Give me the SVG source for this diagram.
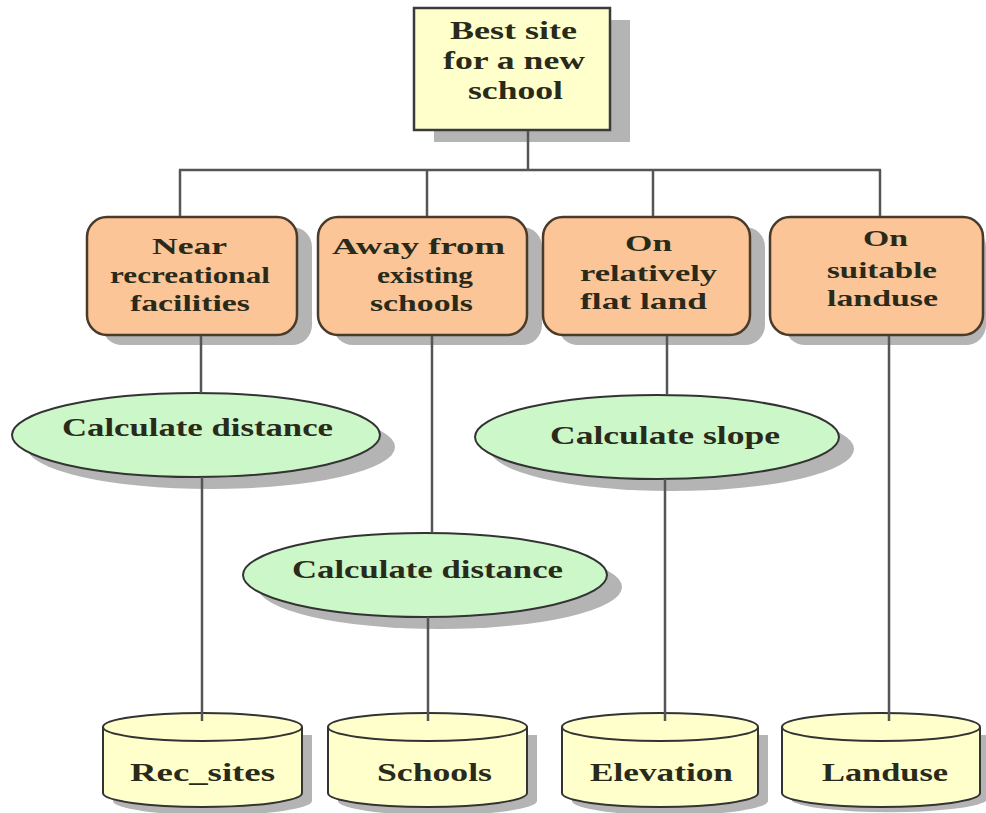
<svg xmlns="http://www.w3.org/2000/svg" width="986" height="813" viewBox="0 0 986 813">
<style>
text{font-family:"Liberation Serif","Times New Roman",serif;font-weight:bold;fill:#2a2a1a;text-anchor:start}
.tb{font-size:24px}.te{font-size:25px}.tc{font-size:25px}.tt{font-size:26px}
.sh{fill:#b4b4b4;stroke:none}
.goal{fill:#ffffcc;stroke:#3a3a3a;stroke-width:2.5}
.crit{fill:#fbc597;stroke:#4a3a2a;stroke-width:2.5}
.proc{fill:#ccf7c8;stroke:#333;stroke-width:2}
.data{fill:#ffffcc;stroke:#333;stroke-width:2}
.conn line{stroke:#555;stroke-width:2.5}
</style>
<rect width="986" height="813" fill="#ffffff"/>
<g id="goal">
<rect class="sh" x="434" y="20" width="196" height="122"/>
<rect class="goal" x="414" y="8" width="196" height="122"/>
<text class="tt" x="450" y="39" textLength="127" lengthAdjust="spacingAndGlyphs">Best site</text>
<text class="tt" x="443" y="69" textLength="142" lengthAdjust="spacingAndGlyphs">for a new</text>
<text class="tt" x="468" y="99" textLength="95" lengthAdjust="spacingAndGlyphs">school</text>
</g>
<g id="crit1">
<rect class="sh" x="102" y="227" width="210" height="118" rx="20"/>
<rect class="crit" x="87" y="217" width="210" height="118" rx="20"/>
<text class="tb" x="152" y="254" textLength="75" lengthAdjust="spacingAndGlyphs">Near</text>
<text class="tb" x="110" y="283" textLength="160" lengthAdjust="spacingAndGlyphs">recreational</text>
<text class="tb" x="130" y="311" textLength="120" lengthAdjust="spacingAndGlyphs">facilities</text>
</g>
<g id="crit2">
<rect class="sh" x="333" y="227" width="209" height="118" rx="20"/>
<rect class="crit" x="318" y="217" width="209" height="118" rx="20"/>
<text class="tb" x="332" y="254" textLength="173" lengthAdjust="spacingAndGlyphs">Away from</text>
<text class="tb" x="377" y="283" textLength="96" lengthAdjust="spacingAndGlyphs">existing</text>
<text class="tb" x="370" y="311" textLength="103" lengthAdjust="spacingAndGlyphs">schools</text>
</g>
<g id="crit3">
<rect class="sh" x="558" y="227" width="207" height="118" rx="20"/>
<rect class="crit" x="543" y="217" width="207" height="118" rx="20"/>
<text class="tb" x="625" y="251" textLength="47" lengthAdjust="spacingAndGlyphs">On</text>
<text class="tb" x="580" y="281" textLength="137" lengthAdjust="spacingAndGlyphs">relatively</text>
<text class="tb" x="580" y="309" textLength="127" lengthAdjust="spacingAndGlyphs">flat land</text>
</g>
<g id="crit4">
<rect class="sh" x="785" y="227" width="201" height="118" rx="20"/>
<rect class="crit" x="770" y="217" width="213" height="118" rx="20"/>
<text class="tb" x="863" y="246" textLength="45" lengthAdjust="spacingAndGlyphs">On</text>
<text class="tb" x="827" y="278" textLength="110" lengthAdjust="spacingAndGlyphs">suitable</text>
<text class="tb" x="827" y="306" textLength="111" lengthAdjust="spacingAndGlyphs">landuse</text>
</g>
<g id="proc1">
<ellipse class="sh" cx="211" cy="447" rx="184" ry="42"/>
<ellipse class="proc" cx="196" cy="435" rx="184" ry="42"/>
<text class="te" x="62" y="436" textLength="271" lengthAdjust="spacingAndGlyphs">Calculate distance</text>
</g>
<g id="proc2">
<ellipse class="sh" cx="440" cy="587" rx="182" ry="42"/>
<ellipse class="proc" cx="425" cy="575" rx="182" ry="42"/>
<text class="te" x="292" y="578" textLength="271" lengthAdjust="spacingAndGlyphs">Calculate distance</text>
</g>
<g id="proc3">
<ellipse class="sh" cx="672" cy="449" rx="182" ry="42"/>
<ellipse class="proc" cx="657" cy="437" rx="182" ry="42"/>
<text class="te" x="550" y="444" textLength="230" lengthAdjust="spacingAndGlyphs">Calculate slope</text>
</g>
<g id="data1">
<path class="sh" d="M113,735 L113,801 A99.5,14 0 0 0 312,801 L312,735 Z"/>
<path class="data" d="M103,727 L103,793 A99.5,14 0 0 0 302,793 L302,727"/>
<ellipse class="data" cx="202.5" cy="727" rx="99.5" ry="14"/>
<text class="tc" x="130" y="781" textLength="145" lengthAdjust="spacingAndGlyphs">Rec_sites</text>
</g>
<g id="data2">
<path class="sh" d="M338,735 L338,801 A99.5,14 0 0 0 537,801 L537,735 Z"/>
<path class="data" d="M328,727 L328,793 A99.5,14 0 0 0 527,793 L527,727"/>
<ellipse class="data" cx="427.5" cy="727" rx="99.5" ry="14"/>
<text class="tc" x="377" y="781" textLength="115" lengthAdjust="spacingAndGlyphs">Schools</text>
</g>
<g id="data3">
<path class="sh" d="M572,735 L572,801 A98,14 0 0 0 768,801 L768,735 Z"/>
<path class="data" d="M562,727 L562,793 A98,14 0 0 0 758,793 L758,727"/>
<ellipse class="data" cx="660" cy="727" rx="98" ry="14"/>
<text class="tc" x="590" y="781" textLength="143" lengthAdjust="spacingAndGlyphs">Elevation</text>
</g>
<g id="data4">
<path class="sh" d="M792,735 L792,801 A99,14 0 0 0 986,801 L986,735 Z"/>
<path class="data" d="M782,727 L782,793 A99,14 0 0 0 980,793 L980,727"/>
<ellipse class="data" cx="881" cy="727" rx="99" ry="14"/>
<text class="tc" x="822" y="781" textLength="126" lengthAdjust="spacingAndGlyphs">Landuse</text>
</g>
<g id="connectors" class="conn">
<line x1="528" y1="131" x2="528" y2="170"/>
<line x1="179" y1="170" x2="881" y2="170"/>
<line x1="180" y1="170" x2="180" y2="216"/>
<line x1="427" y1="170" x2="427" y2="216"/>
<line x1="653" y1="170" x2="653" y2="216"/>
<line x1="880" y1="170" x2="880" y2="216"/>
<line x1="201" y1="336" x2="201" y2="393"/>
<line x1="202" y1="477" x2="202" y2="721"/>
<line x1="432" y1="336" x2="432" y2="533"/>
<line x1="428" y1="617" x2="428" y2="721"/>
<line x1="667" y1="336" x2="667" y2="395"/>
<line x1="665" y1="479" x2="665" y2="721"/>
<line x1="889" y1="336" x2="889" y2="721"/>
</g>
</svg>
